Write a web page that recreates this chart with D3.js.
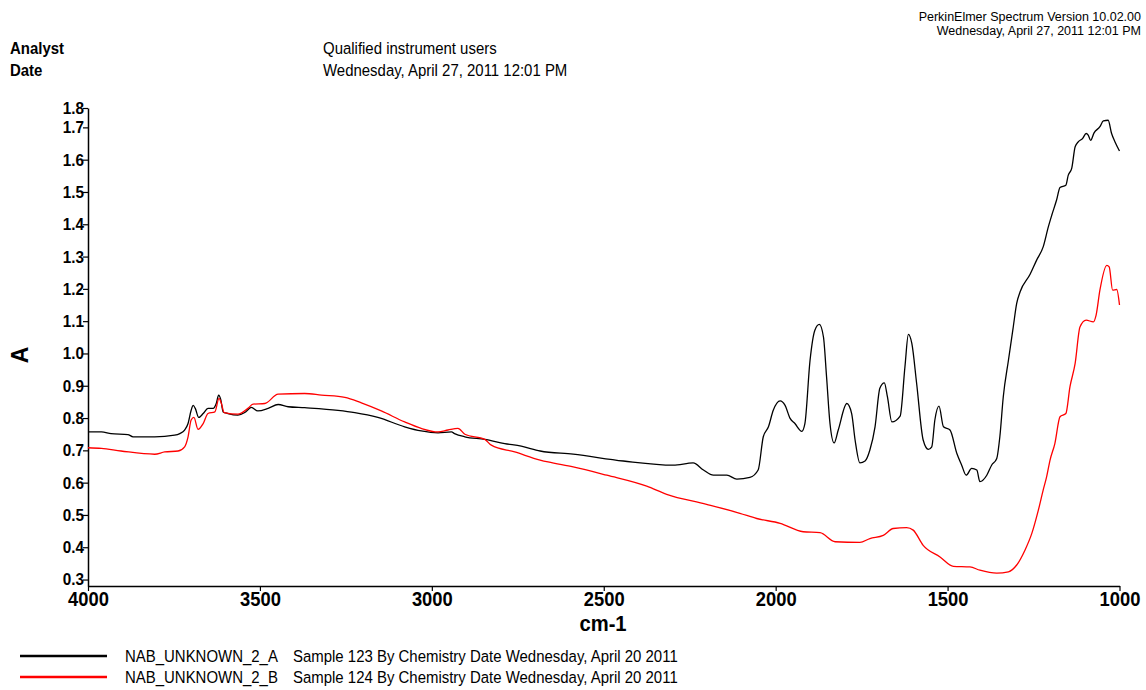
<!DOCTYPE html>
<html>
<head>
<meta charset="utf-8">
<script src="https://cdn.jsdelivr.net/npm/d3@7"></script>
<style>
  html, body { margin: 0; padding: 0; background: #fff; }
  svg { display: block; font-family: "Liberation Sans", Arial, sans-serif; }
</style>
</head>
<body>
<svg id="chart" width="1146" height="690"></svg>
<script>
// ---- data (wavenumber cm-1, absorbance A) ----
const seriesNames = ["NAB_UNKNOWN_2_A", "NAB_UNKNOWN_2_B"];
const seriesDescriptions = [
  "Sample 123 By Chemistry Date Wednesday, April 20 2011",
  "Sample 124 By Chemistry Date Wednesday, April 20 2011"
];
const seriesColors = ["#000000", "#ff0000"];

const wavenumbersA = [4000,3961,3933,3884,3869,3806,3748,3733,3719,3709,3700,3694,3688,3678,3665,3651,3636,3627,3620,3614,3607,3593,3564,3544,3525,3506,3476,3447,3418,3370,3273,3224,3157,3079,3031,2982,2943,2934,2904,2846,2788,2740,2685,2589,2443,2298,2240,2210,2181,2142,2113,2075,2051,2036,2021,2007,1987,1973,1958,1944,1924,1915,1900,1886,1873,1861,1852,1842,1830,1818,1793,1779,1769,1755,1740,1726,1711,1697,1684,1675,1662,1638,1624,1614,1604,1590,1571,1556,1546,1537,1525,1512,1493,1473,1459,1446,1430,1415,1406,1386,1372,1357,1348,1338,1323,1309,1299,1289,1260,1241,1222,1207,1197,1183,1173,1156,1149,1139,1129,1120,1107,1097,1091,1084,1074,1057,1047,1033,1023,1013,1000];
const absorbanceA = [0.757,0.757,0.752,0.749,0.742,0.742,0.747,0.752,0.763,0.783,0.824,0.839,0.830,0.802,0.814,0.830,0.830,0.845,0.871,0.858,0.819,0.814,0.809,0.817,0.833,0.822,0.830,0.842,0.835,0.832,0.824,0.817,0.802,0.773,0.760,0.754,0.757,0.752,0.742,0.734,0.721,0.713,0.698,0.688,0.667,0.654,0.661,0.639,0.623,0.623,0.611,0.616,0.639,0.742,0.773,0.824,0.853,0.840,0.799,0.783,0.759,0.783,0.979,1.072,1.090,1.051,0.928,0.783,0.723,0.763,0.845,0.814,0.732,0.661,0.667,0.701,0.773,0.892,0.909,0.866,0.788,0.806,0.959,1.059,1.031,0.907,0.732,0.703,0.711,0.794,0.837,0.773,0.763,0.690,0.654,0.623,0.644,0.639,0.603,0.623,0.654,0.675,0.742,0.866,0.979,1.082,1.155,1.191,1.245,1.289,1.330,1.392,1.428,1.475,1.514,1.521,1.552,1.573,1.640,1.655,1.666,1.681,1.676,1.660,1.683,1.702,1.720,1.722,1.681,1.655,1.627];

const wavenumbersB = [4000,3961,3904,3806,3777,3738,3719,3709,3700,3692,3680,3665,3651,3631,3619,3612,3604,3564,3535,3520,3486,3447,3370,3321,3253,3205,3147,3079,3031,2982,2953,2924,2904,2846,2827,2759,2685,2662,2589,2491,2375,2317,2201,2104,2055,1987,1920,1871,1827,1755,1726,1687,1658,1619,1600,1571,1522,1483,1435,1406,1357,1323,1299,1275,1255,1236,1222,1212,1202,1188,1173,1156,1144,1129,1115,1097,1076,1068,1057,1037,1030,1020,1008,1000];
const absorbanceB = [0.708,0.706,0.698,0.688,0.695,0.698,0.711,0.742,0.794,0.802,0.765,0.783,0.814,0.819,0.861,0.845,0.817,0.812,0.830,0.843,0.845,0.874,0.876,0.871,0.864,0.847,0.822,0.788,0.768,0.757,0.763,0.768,0.750,0.734,0.716,0.695,0.670,0.664,0.649,0.623,0.589,0.564,0.533,0.505,0.489,0.474,0.448,0.445,0.417,0.415,0.427,0.437,0.458,0.461,0.453,0.406,0.370,0.341,0.339,0.329,0.320,0.324,0.345,0.391,0.443,0.515,0.577,0.618,0.670,0.721,0.804,0.814,0.897,0.969,1.082,1.103,1.098,1.119,1.196,1.273,1.268,1.196,1.198,1.150];

const xDomain = [4000, 1000];
const xTicks = [4000, 3500, 3000, 2500, 2000, 1500, 1000];
const yDomain = [0.28, 1.76];
const yTicks = [0.3, 0.4, 0.5, 0.6, 0.7, 0.8, 0.9, 1.0, 1.1, 1.2, 1.3, 1.4, 1.5, 1.6, 1.7, 1.76];
const xLabel = "cm-1";
const yLabel = "A";
const headerLabels = ["Analyst", "Date"];
const headerValues = ["Qualified instrument users", "Wednesday, April 27, 2011 12:01 PM"];
const stampLines = ["PerkinElmer Spectrum Version 10.02.00", "Wednesday, April 27, 2011 12:01 PM"];

// ---- layout ----
const svg = d3.select("#chart");
const plot = { left: 88, right: 1119.5, top: 108, bottom: 586 };

const x = d3.scaleLinear().domain(xDomain).range([plot.left, plot.right]);
const y = d3.scaleLinear().domain(yDomain).range([plot.bottom, plot.top]);

// condensed text helper (emulates a narrow face by horizontal scaling)
function narrowText(parent, tx, ty, str, size, sx, opts = {}) {
  const t = parent.append("text")
    .attr("transform", `translate(${tx},${ty}) scale(${sx},1)`)
    .attr("font-size", size)
    .attr("fill", "#000")
    .text(str);
  if (opts.bold) t.attr("font-weight", "bold");
  if (opts.anchor) t.attr("text-anchor", opts.anchor);
  return t;
}

// header
stampLines.forEach((s, i) => {
  svg.append("text").attr("x", 1141).attr("y", 21 + i * 14)
    .attr("text-anchor", "end").attr("font-size", 12.5).attr("fill", "#000").text(s);
});
headerLabels.forEach((s, i) => narrowText(svg, 10, 54 + i * 22, s, 17, 0.88, { bold: true }));
headerValues.forEach((s, i) => narrowText(svg, 323, 54 + i * 22, s, 17, 0.88));

// axes
const fmt = d3.format(".1f");
const ySx = 0.9, xSx = 0.92;
const yAxis = d3.axisLeft(y).tickValues(yTicks).tickFormat(fmt).tickSize(5).tickSizeOuter(0);
const xAxis = d3.axisBottom(x).tickValues(xTicks).tickFormat(d3.format("d")).tickSize(5).tickPadding(1).tickSizeOuter(0);

const gy = svg.append("g").attr("transform", `translate(${plot.left},0)`).call(yAxis);
gy.attr("font-family", null).attr("font-size", null);
gy.selectAll("text").attr("font-size", 17).attr("font-weight", "bold").attr("fill", "#000")
  .attr("x", -4 / ySx).attr("transform", `scale(${ySx},1)`);
gy.selectAll("line").attr("stroke", "#000").attr("stroke-width", 1.2);
gy.select(".domain").attr("stroke", "#000").attr("stroke-width", 1.5);

const gx = svg.append("g").attr("transform", `translate(0,${plot.bottom})`).call(xAxis);
gx.attr("font-family", null).attr("font-size", null);
gx.selectAll("text").attr("font-size", 20).attr("font-weight", "bold").attr("fill", "#000")
  .attr("transform", `scale(${xSx},1)`);
gx.selectAll("line").attr("stroke", "#000").attr("stroke-width", 1.2);
gx.select(".domain").attr("stroke", "#000").attr("stroke-width", 1.5);

// axis titles
svg.append("text")
  .attr("transform", `translate(28,355) rotate(-90)`)
  .attr("text-anchor", "middle").attr("font-size", 23).attr("font-weight", "bold")
  .text(yLabel);
narrowText(svg, 603, 631, xLabel, 22, 0.92, { bold: true, anchor: "middle" });

// spectra
const series = [
  wavenumbersA.map((w, i) => ({ w, a: absorbanceA[i] })),
  wavenumbersB.map((w, i) => ({ w, a: absorbanceB[i] }))
];
const line = d3.line().x(d => x(d.w)).y(d => y(d.a)).curve(d3.curveMonotoneX);
svg.append("g").selectAll("path").data(series).join("path")
  .attr("d", line)
  .attr("fill", "none")
  .attr("stroke", (d, i) => seriesColors[i])
  .attr("stroke-width", 1.3)
  .attr("stroke-linejoin", "round");

// legend
seriesNames.forEach((name, i) => {
  const yy = 656 + i * 21;
  svg.append("line").attr("x1", 20).attr("x2", 107).attr("y1", yy).attr("y2", yy)
    .attr("stroke", seriesColors[i]).attr("stroke-width", 2.5);
  narrowText(svg, 125, yy + 6, name, 17, 0.88);
  narrowText(svg, 293, yy + 6, seriesDescriptions[i], 17, 0.88);
});
</script>
</body>
</html>
